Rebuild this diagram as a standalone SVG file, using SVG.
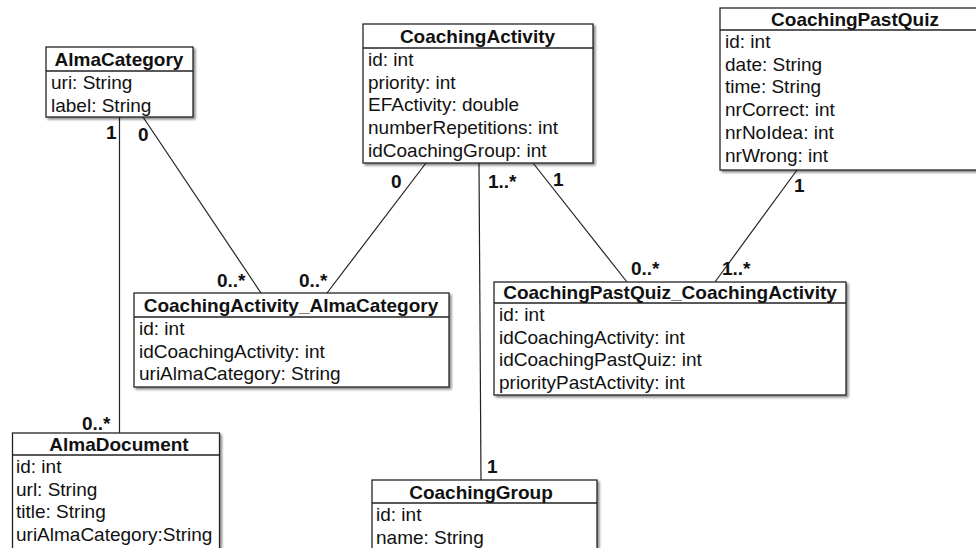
<svg xmlns="http://www.w3.org/2000/svg" width="976" height="548" viewBox="0 0 976 548">
  <defs>
    <filter id="shadow" x="-5%" y="-5%" width="115%" height="115%">
      <feGaussianBlur in="SourceAlpha" stdDeviation="1.2"/>
      <feOffset dx="2" dy="2" result="blur"/>
      <feComponentTransfer><feFuncA type="linear" slope="0.45"/></feComponentTransfer>
      <feMerge><feMergeNode/><feMergeNode in="SourceGraphic"/></feMerge>
    </filter>
    <style>
      .box { fill: #ffffff; stroke: #222222; stroke-width: 1.3; filter: url(#shadow); }
      .sep { stroke: #222222; stroke-width: 1.3; }
      .title { font-family: "Liberation Sans", Arial, Helvetica, sans-serif; font-size: 19px; font-weight: bold; fill: #111111; text-anchor: middle; }
      .attr { font-family: "Liberation Sans", Arial, Helvetica, sans-serif; font-size: 19px; fill: #111111; }
      .mult { font-family: "Liberation Sans", Arial, Helvetica, sans-serif; font-size: 19px; font-weight: bold; fill: #111111; }
      .assoc { stroke: #222222; stroke-width: 1.2; fill: none; }
    </style>
  </defs>
  <rect width="976" height="548" fill="#ffffff"/>

  <!-- associations -->
  <g id="connectors">
    <line class="assoc" x1="119.5" y1="117" x2="119.5" y2="433"/>
    <line class="assoc" x1="143" y1="117" x2="261" y2="293"/>
    <line class="assoc" x1="426" y1="163" x2="327" y2="293"/>
    <line class="assoc" x1="479" y1="163" x2="481" y2="480"/>
    <line class="assoc" x1="533" y1="163" x2="627" y2="282"/>
    <line class="assoc" x1="797" y1="170" x2="715" y2="282"/>
    <!-- multiplicities -->
    <text class="mult" x="106" y="139">1</text>
    <text class="mult" x="138" y="141">0</text>
    <text class="mult" x="217" y="287">0..*</text>
    <text class="mult" x="299" y="287">0..*</text>
    <text class="mult" x="391" y="188">0</text>
    <text class="mult" x="488" y="188">1..*</text>
    <text class="mult" x="553" y="186">1</text>
    <text class="mult" x="631" y="275">0..*</text>
    <text class="mult" x="722" y="275">1..*</text>
    <text class="mult" x="794" y="192">1</text>
    <text class="mult" x="82" y="430">0..*</text>
    <text class="mult" x="487" y="473">1</text>
  </g>

  <g id="AlmaCategory">
    <rect class="box" x="46" y="47" width="147" height="70"/>
    <line class="sep" x1="46" y1="71" x2="193" y2="71"/>
    <text class="title" x="119" y="66">AlmaCategory</text>
    <text class="attr" x="51" y="89">uri: String</text>
    <text class="attr" x="51" y="111.7">label: String</text>
  </g>

  <g id="CoachingActivity">
    <rect class="box" x="363" y="24" width="230" height="139"/>
    <line class="sep" x1="363" y1="48" x2="593" y2="48"/>
    <text class="title" x="477.5" y="43">CoachingActivity</text>
    <text class="attr" x="368" y="66">id: int</text>
    <text class="attr" x="368" y="88.7">priority: int</text>
    <text class="attr" x="368" y="111.4">EFActivity: double</text>
    <text class="attr" x="368" y="134.1">numberRepetitions: int</text>
    <text class="attr" x="368" y="156.8">idCoachingGroup: int</text>
  </g>

  <g id="CoachingPastQuiz">
    <rect class="box" x="720" y="8" width="270" height="162"/>
    <line class="sep" x1="720" y1="30" x2="990" y2="30"/>
    <text class="title" x="855" y="26">CoachingPastQuiz</text>
    <text class="attr" x="725" y="48">id: int</text>
    <text class="attr" x="725" y="70.7">date: String</text>
    <text class="attr" x="725" y="93.4">time: String</text>
    <text class="attr" x="725" y="116.1">nrCorrect: int</text>
    <text class="attr" x="725" y="138.8">nrNoIdea: int</text>
    <text class="attr" x="725" y="161.5">nrWrong: int</text>
  </g>

  <g id="CoachingActivity_AlmaCategory">
    <rect class="box" x="134" y="293" width="315" height="94"/>
    <line class="sep" x1="134" y1="317" x2="449" y2="317"/>
    <text class="title" x="291" y="312">CoachingActivity_AlmaCategory</text>
    <text class="attr" x="139" y="335">id: int</text>
    <text class="attr" x="139" y="357.7">idCoachingActivity: int</text>
    <text class="attr" x="139" y="380.4">uriAlmaCategory: String</text>
  </g>

  <g id="CoachingPastQuiz_CoachingActivity">
    <rect class="box" x="494" y="282" width="352" height="113"/>
    <line class="sep" x1="494" y1="303" x2="846" y2="303"/>
    <text class="title" x="670" y="299">CoachingPastQuiz_CoachingActivity</text>
    <text class="attr" x="499" y="321">id: int</text>
    <text class="attr" x="499" y="343.7">idCoachingActivity: int</text>
    <text class="attr" x="499" y="366.4">idCoachingPastQuiz: int</text>
    <text class="attr" x="499" y="389.1">priorityPastActivity: int</text>
  </g>

  <g id="AlmaDocument">
    <rect class="box" x="12.5" y="433" width="207" height="130"/>
    <line class="sep" x1="12.5" y1="455" x2="219.5" y2="455"/>
    <text class="title" x="119" y="451">AlmaDocument</text>
    <text class="attr" x="16" y="473">id: int</text>
    <text class="attr" x="16" y="495.7">url: String</text>
    <text class="attr" x="16" y="518.4">title: String</text>
    <text class="attr" x="16" y="541.1">uriAlmaCategory:String</text>
  </g>

  <g id="CoachingGroup">
    <rect class="box" x="372" y="480" width="225" height="90"/>
    <line class="sep" x1="372" y1="503" x2="597" y2="503"/>
    <text class="title" x="481" y="499">CoachingGroup</text>
    <text class="attr" x="376" y="521">id: int</text>
    <text class="attr" x="376" y="543.7">name: String</text>
  </g>
</svg>
